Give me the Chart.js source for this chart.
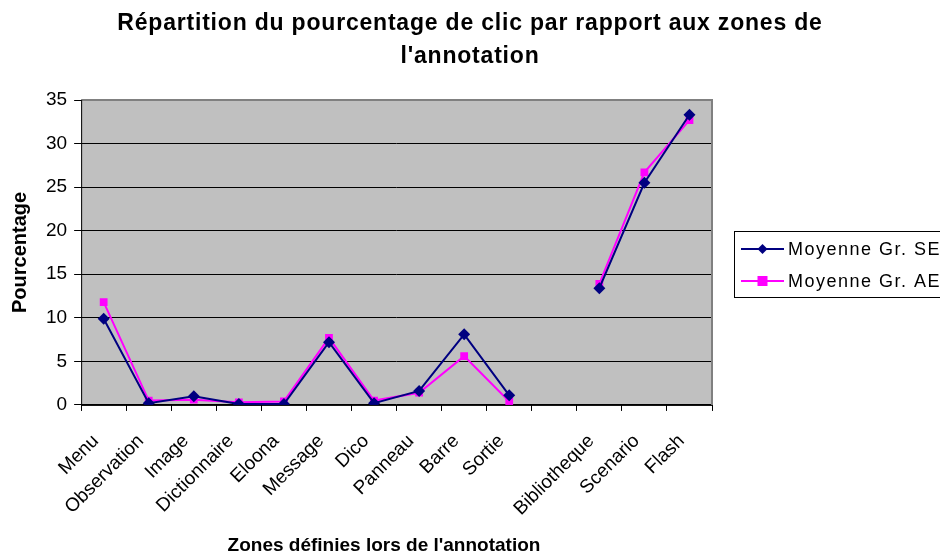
<!DOCTYPE html>
<html>
<head>
<meta charset="utf-8">
<script src="https://cdn.jsdelivr.net/npm/chart.js@4.4.0/dist/chart.umd.min.js"></script>
<style>
  html, body { margin: 0; padding: 0; background: #fff; }
  #wrap { width: 940px; height: 556px; }
</style>
</head>
<body>
<div id="wrap"><canvas id="chart" width="940" height="556"></canvas></div>
<script>
    const zones = ['Menu', 'Observation', 'Image', 'Dictionnaire', 'Eloona', 'Message', 'Dico',
        'Panneau', 'Barre', 'Sortie', '', 'Bibliotheque', 'Scenario', 'Flash'];
    const moyenneSE = [9.9, 0.2, 1.0, 0.1, 0.1, 7.2, 0.2, 1.6, 8.1, 1.1, null, 13.4, 25.5, 33.3];
    const moyenneAE = [11.8, 0.5, 0.6, 0.3, 0.4, 7.7, 0.5, 1.4, 5.6, 0.4, null, 13.9, 26.7, 32.7];
    const yTicks = [0, 5, 10, 15, 20, 25, 30, 35];
    const titreLignes = ['Répartition du pourcentage de clic par rapport aux zones de', "l'annotation"];
    const titreX = "Zones définies lors de l'annotation";

    const FONT = 'Arial, "Liberation Sans", sans-serif';

    // fond gris de la zone de tracé + bordures
    const plotBg = {
        id: 'plotBg',
        beforeDraw(chart) {
            const a = chart.chartArea, c = chart.ctx;
            c.save();
            c.fillStyle = '#C0C0C0';
            c.fillRect(a.left, a.top, a.right - a.left, a.bottom - a.top);
            c.restore();
        },
        afterDatasetsDraw(chart) {
            const a = chart.chartArea, c = chart.ctx;
            c.save();
            c.strokeStyle = '#808080';
            c.lineWidth = 2;
            c.beginPath();
            c.moveTo(a.left, a.top);
            c.lineTo(a.right, a.top);
            c.lineTo(a.right, a.bottom);
            c.stroke();
            c.strokeStyle = '#000';
            c.lineWidth = 1;
            c.beginPath();
            c.moveTo(a.left + 0.5, a.top);
            c.lineTo(a.left + 0.5, a.bottom + 0.5);
            c.lineTo(a.right, a.bottom + 0.5);
            c.stroke();
            c.restore();
        }
    };

    // titres dessinés à la main (centrage comme dans Excel)
    const titres = {
        id: 'titres',
        afterDraw(chart) {
            const c = chart.ctx;
            c.save();
            c.fillStyle = '#000';
            c.textAlign = 'center';
            c.textBaseline = 'alphabetic';
            c.letterSpacing = '0.8px';
            c.font = 'bold 23px ' + FONT;
            titreLignes.forEach((t, i) => c.fillText(t, 470, 30 + i * 33));
            c.letterSpacing = '0px';
            c.font = 'bold 19px ' + FONT;
            c.fillText(titreX, 384, 551);
            c.restore();
        }
    };

    // légende façon Excel, coupée à droite
    const boxLegend = {
        id: 'boxLegend',
        afterDraw(chart) {
            const c = chart.ctx;
            const x = 734, y = 231, w = 220, h = 66;
            c.save();
            c.fillStyle = '#fff';
            c.fillRect(x, y, w, h);
            c.strokeStyle = '#000';
            c.lineWidth = 1;
            c.strokeRect(x + 0.5, y + 0.5, w, h);
            chart.data.datasets.forEach((ds, i) => {
                const ly = y + 18 + i * 32;
                c.strokeStyle = ds.borderColor;
                c.lineWidth = 2;
                c.beginPath();
                c.moveTo(741, ly);
                c.lineTo(784, ly);
                c.stroke();
                c.fillStyle = ds.backgroundColor;
                const mx = 762.5;
                if (ds.pointStyle === 'rectRot') {
                    c.beginPath();
                    c.moveTo(mx, ly - 5);
                    c.lineTo(mx + 5, ly);
                    c.lineTo(mx, ly + 5);
                    c.lineTo(mx - 5, ly);
                    c.closePath();
                    c.fill();
                } else {
                    c.fillRect(mx - 5, ly - 5, 10, 10);
                }
                c.fillStyle = '#000';
                c.letterSpacing = '1.5px';
                c.font = '18px ' + FONT;
                c.textBaseline = 'middle';
                c.fillText(ds.label, 788, ly + 1);
            });
            c.restore();
        }
    };

    const ctx = document.getElementById('chart').getContext('2d');
    const chart = new Chart(ctx, {
        type: 'line',
        data: {
            labels: zones,
            datasets: [{
                label: 'Moyenne Gr. SE',
                data: moyenneSE,
                borderColor: '#000080',
                backgroundColor: '#000080',
                borderWidth: 2,
                pointStyle: 'rectRot',
                pointRadius: 6,
                pointHoverRadius: 6,
                pointBorderWidth: 0,
                tension: 0,
                spanGaps: false
            }, {
                label: 'Moyenne Gr. AE',
                data: moyenneAE,
                borderColor: '#FF00FF',
                backgroundColor: '#FF00FF',
                borderWidth: 2,
                pointStyle: 'rect',
                pointRadius: 5.5,
                pointHoverRadius: 5.5,
                pointBorderWidth: 0,
                tension: 0,
                spanGaps: false
            }]
        },
        options: {
            responsive: false,
            animation: false,
            layout: {
                padding: { left: 8, right: 228, top: 100, bottom: 17 }
            },
            plugins: {
                legend: { display: false },
                tooltip: { enabled: false },
                title: { display: false }
            },
            scales: {
                x: {
                    offset: true,
                    grid: {
                        offset: true,
                        drawOnChartArea: false,
                        drawTicks: true,
                        tickLength: 6,
                        color: '#000'
                    },
                    border: { display: false },
                    ticks: {
                        autoSkip: false,
                        maxRotation: 45,
                        minRotation: 45,
                        color: '#000',
                        font: { family: FONT, size: 19 },
                        padding: 19,
                        labelOffset: -8
                    }
                },
                y: {
                    min: 0,
                    max: 35,
                    afterBuildTicks(axis) {
                        axis.ticks = yTicks.map(v => ({ value: v }));
                    },
                    grid: {
                        color: '#000',
                        lineWidth: 1,
                        drawTicks: true,
                        tickLength: 7
                    },
                    border: { display: false },
                    ticks: {
                        color: '#000',
                        font: { family: FONT, size: 19 },
                        padding: 7
                    },
                    title: {
                        display: true,
                        text: 'Pourcentage',
                        color: '#000',
                        font: { family: FONT, size: 20, weight: 'bold' },
                        padding: { top: 0, bottom: 7 }
                    }
                }
            }
        },
        plugins: [plotBg, titres, boxLegend]
    });
</script>
</body>
</html>
